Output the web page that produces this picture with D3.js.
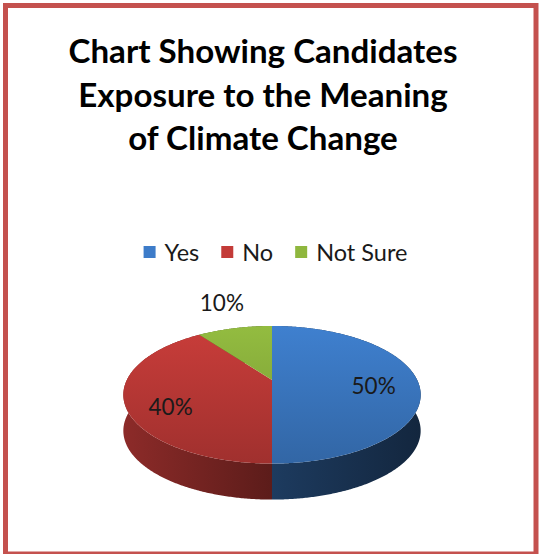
<!DOCTYPE html>
<html><head><meta charset="utf-8">
<script src="https://cdn.jsdelivr.net/npm/d3@7"></script>
<style>html,body{margin:0;padding:0;background:#fff;}svg{display:block;}</style>
</head><body>
<script>
// ---- data ----
const categories = ["Yes", "No", "Not Sure"];
const values = [50, 40, 10];
const valueLabels = ["50%", "40%", "10%"];
const titleLines = ["Chart Showing Candidates", "Exposure to the Meaning", "of Climate Change"];
// ---- styles ----
const colors = ["#3d7cc9", "#c33b38", "#8fb73e"];

const W = 540, H = 554;
const svg = d3.select("body").append("svg").attr("width", W).attr("height", H);
const defs = svg.append("defs");

svg.append("rect").attr("x", 0).attr("y", 0).attr("width", W).attr("height", H).attr("fill", "#fff");
svg.append("rect").attr("x", 5.5).attr("y", 5.5).attr("width", 530.5).attr("height", 548.5)
  .attr("fill", "#fff").attr("stroke", "#c4514e").attr("stroke-width", 5);

// ---- title ----
const tFont = "Lato, 'Open Sans', sans-serif";
const title = svg.append("g");
const probe = title.append("text").attr("font-family", tFont).attr("font-weight", "bold")
  .attr("font-size", 100).text(titleLines[0]);
const titleSize = 100 * 389 / probe.node().getComputedTextLength();
probe.remove();
title.selectAll("text").data(titleLines).join("text")
  .attr("x", 263).attr("y", (d, i) => 63 + i * 43.5)
  .attr("text-anchor", "middle").attr("font-family", tFont).attr("font-weight", "bold")
  .attr("font-size", titleSize).attr("fill", "#000").text(d => d);

// ---- legend ----
const legFont = 23.5;
const legend = svg.append("g");
const items = legend.selectAll("g").data(categories).join("g");
items.append("rect").attr("width", 12).attr("height", 12).attr("y", 246)
  .attr("fill", (d, i) => colors[i]);
items.append("text").attr("x", 21).attr("y", 260.5)
  .attr("font-family", tFont).attr("font-size", legFont).attr("fill", "#1a1a1a").text(d => d);
let xpos = 0;
const offs = [];
items.each(function () {
  offs.push(xpos);
  const tw = d3.select(this).select("text").node().getComputedTextLength();
  xpos += 21 + tw + 22;
});
const legW = xpos - 22;
const legX0 = 275.5 - legW / 2;
items.attr("transform", (d, i) => `translate(${legX0 + offs[i]},0)`);

// ---- 3D pie ----
const P = { cx: 272, cy: 380, F: 603, D: 4.153, s: 0.452, c: 0.892, depth: 36 };
function proj(a, r) {
  const X = r * Math.sin(a), Y = r * Math.cos(a);
  const z = P.D + P.c * Y;
  return [P.cx + P.F * X / z, P.cy - P.F * P.s * Y / z];
}
const pie = d3.pie().sort(null).value(d => d)(values);
function arcPts(d) {
  const n = Math.max(4, Math.ceil((d.endAngle - d.startAngle) / (Math.PI / 360)));
  return d3.range(n + 1).map(k => proj(d.startAngle + (d.endAngle - d.startAngle) * k / n, 1));
}
const line = d3.line();

// gradients
pie.forEach((d, i) => {
  const base = d3.color(colors[i]);
  const gt = defs.append("linearGradient").attr("id", "top" + i)
    .attr("gradientUnits", "userSpaceOnUse").attr("x1", 0).attr("x2", 0)
    .attr("y1", proj(0, 1)[1]).attr("y2", proj(Math.PI, 1)[1]);
  gt.append("stop").attr("offset", 0).attr("stop-color", base.brighter(0.08));
  gt.append("stop").attr("offset", 1).attr("stop-color", base.darker(0.55));
  const gs = defs.append("linearGradient").attr("id", "side" + i)
    .attr("gradientUnits", "userSpaceOnUse").attr("y1", 0).attr("y2", 0)
    .attr("x1", P.cx - 150).attr("x2", P.cx + 150);
  gs.append("stop").attr("offset", 0).attr("stop-color", base.darker(0.9));
  gs.append("stop").attr("offset", 0.5).attr("stop-color", base.darker(2.1));
  gs.append("stop").attr("offset", 1).attr("stop-color", base.darker(3.3));
});

const pieG = svg.append("g");
pieG.selectAll("path.side").data(pie).join("path").attr("class", "side")
  .attr("d", d => {
    const pts = arcPts(d);
    const low = pts.map(p => [p[0], p[1] + P.depth]).reverse();
    return line(pts.concat(low)) + "Z";
  })
  .attr("fill", (d, i) => `url(#side${i})`);
pieG.selectAll("path.top").data(pie).join("path").attr("class", "top")
  .attr("d", d => line([[P.cx, P.cy]].concat(arcPts(d))) + "Z")
  .attr("fill", (d, i) => `url(#top${i})`);

// ---- labels ----
svg.append("g").selectAll("text").data(pie).join("text")
  .each(function (d, i) {
    const mid = (d.startAngle + d.endAngle) / 2;
    const outside = (d.endAngle - d.startAngle) < 0.15 * 2 * Math.PI;
    const p = outside ? proj(mid, 1.6) : proj(mid, 0.7);
    const dy = outside ? -2 : 5 + 20 * (-Math.cos(mid));
    d3.select(this).attr("x", p[0] + (outside ? 4 : 0)).attr("y", p[1] + dy);
  })
  .attr("text-anchor", "middle").attr("dominant-baseline", "central")
  .attr("font-family", tFont).attr("font-size", 22.5).attr("fill", "#1a1a1a")
  .text((d, i) => valueLabels[i]);
</script>
</body></html>
